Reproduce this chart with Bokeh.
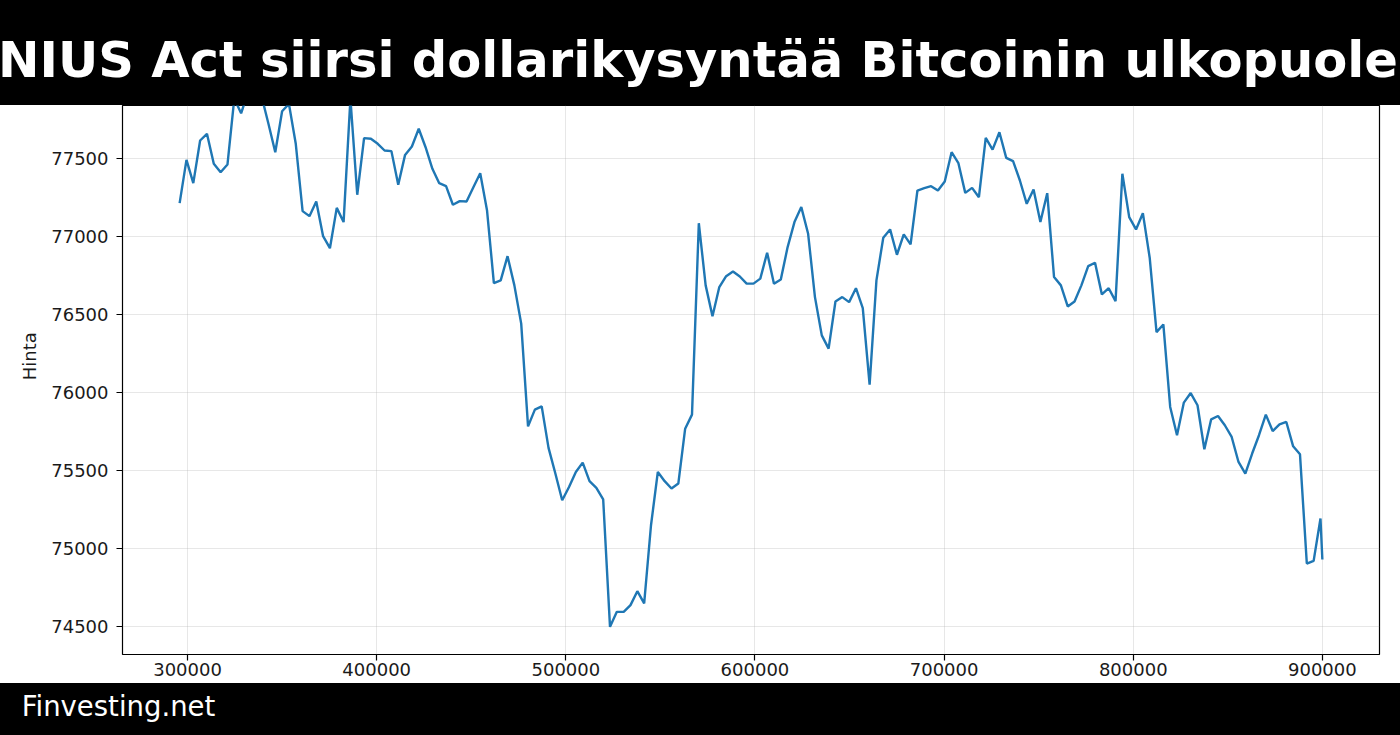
from bokeh.plotting import figure
from bokeh.layouts import column
from bokeh.models import Range1d, FixedTicker, NumeralTickFormatter, Title, Div
from bokeh.embed import file_html
from bokeh.resources import INLINE

title_text = "GENIUS Act siirsi dollarikysyntää Bitcoinin ulkopuolelle"
footer_text = "Finvesting.net"
y_label = "Hinta"

x_start = 295800
x_step = 3612
x_last = 900000

prices = [
    77211, 77488, 77339, 77612, 77655, 77463, 77409, 77458, 77880, 77786,
    77920, 77960, 77894, 77719, 77537, 77799, 77846, 77591, 77160, 77128,
    77222, 77000, 76923, 77181, 77090, 77880, 77265, 77627, 77623, 77591,
    77548, 77544, 77329, 77520, 77574, 77687, 77569, 77431, 77339, 77320,
    77201, 77224, 77222, 77313, 77403, 77164, 76700, 76717, 76872, 76685,
    76440, 75783, 75890, 75911, 75645, 75481, 75310, 75395, 75491, 75551,
    75432, 75389, 75316, 74500, 74596, 74596, 74639, 74728, 74650, 75150,
    75491, 75432, 75385, 75417, 75768, 75858, 77083, 76685, 76487, 76674,
    76744, 76774, 76742, 76696, 76696, 76728, 76894, 76696, 76723, 76930,
    77090, 77186, 77015, 76610, 76365, 76280, 76582, 76610, 76578, 76667,
    76540, 76050, 76717, 76990, 77043, 76881, 77011, 76947, 77292, 77307,
    77320, 77292, 77350, 77537, 77467, 77277, 77309, 77249, 77629, 77554,
    77665, 77501, 77480, 77356, 77207, 77299, 77090, 77275, 76738, 76685,
    76550, 76582, 76685, 76808, 76830, 76627, 76667, 76584, 77399, 77122,
    77043, 77147, 76862, 76386, 76435, 75907, 75726, 75935, 75996, 75918,
    75636, 75828, 75849, 75790, 75715, 75555, 75481, 75609, 75726, 75858,
    75753, 75796, 75811, 75655, 75604, 74905, 74922, 75193, 74931,
]

xs = [x_start + x_step * i for i in range(len(prices) - 1)] + [x_last]

x_ticks = [300000, 400000, 500000, 600000, 700000, 800000, 900000]
y_ticks = [74500, 75000, 75500, 76000, 76500, 77000, 77500]

FONT = "DejaVu Sans"
W = 1400
BL, BR = 122, 21   # frame spans x 122..1379

# ---- title bar
top = Div(width=W, height=105, margin=0, text=(
    '<div style="width:1400px;height:105px;box-sizing:border-box;background:#000;'
    'overflow:hidden;display:flex;justify-content:center;align-items:flex-start;'
    'padding-top:35.5px;padding-right:11px;">'
    '<span style="white-space:nowrap;flex:none;color:#fff;font-family:\'DejaVu Sans\';'
    'font-weight:bold;font-size:49.6px;line-height:1;">' + title_text + '</span></div>'))

# ---- main chart
span = xs[-1] - xs[0]
p = figure(width=W, height=578,
           x_range=Range1d(xs[0] - 0.05 * span, xs[-1] + 0.05 * span),
           y_range=Range1d(74323, 77836),
           toolbar_location=None, output_backend="svg",
           min_border_left=BL, min_border_right=BR, min_border_top=0,
           min_border_bottom=29,
           background_fill_color="white", border_fill_color="white",
           outline_line_color="black", outline_line_width=1.2)
p.line(xs, prices, line_color="#1f77b4", line_width=2.4)

p.xaxis.ticker = FixedTicker(ticks=x_ticks)
p.yaxis.ticker = FixedTicker(ticks=y_ticks)
p.xaxis.formatter = NumeralTickFormatter(format="0")
p.yaxis.formatter = NumeralTickFormatter(format="0")
for ax in (p.xaxis[0], p.yaxis[0]):
    ax.axis_line_color = None
    ax.major_tick_in = 0
    ax.major_tick_out = 6
    ax.major_tick_line_color = "black"
    ax.major_tick_line_width = 1.2
    ax.minor_tick_line_color = None
    ax.major_label_text_font = FONT
    ax.major_label_text_font_size = "18px"
    ax.major_label_text_color = "#1a1a1a"
p.xaxis.major_label_standoff = 2
p.yaxis.major_label_standoff = 8

p.add_layout(Title(text=y_label, align="left", offset=274.3, vertical_align="middle",
                   standoff=16, text_font=FONT, text_font_size="18px",
                   text_font_style="normal", text_color="#1a1a1a"), "left")

p.grid.grid_line_color = "#b0b0b0"
p.grid.grid_line_alpha = 0.3
p.grid.grid_line_width = 1
p.xgrid.ticker = FixedTicker(ticks=x_ticks)
p.ygrid.ticker = FixedTicker(ticks=y_ticks)

# ---- footer bar
foot = Div(width=W, height=52, margin=0, text=(
    '<div style="width:1400px;height:52px;box-sizing:border-box;background:#000;'
    'overflow:hidden;padding-top:10.4px;padding-left:21.7px;">'
    '<span style="white-space:nowrap;color:#fff;font-family:\'DejaVu Sans\';'
    'font-size:27.5px;line-height:1;display:inline-block;">' + footer_text + '</span></div>'))

layout = column(top, p, foot, spacing=0)
open("out.html", "w").write(file_html(layout, INLINE))
